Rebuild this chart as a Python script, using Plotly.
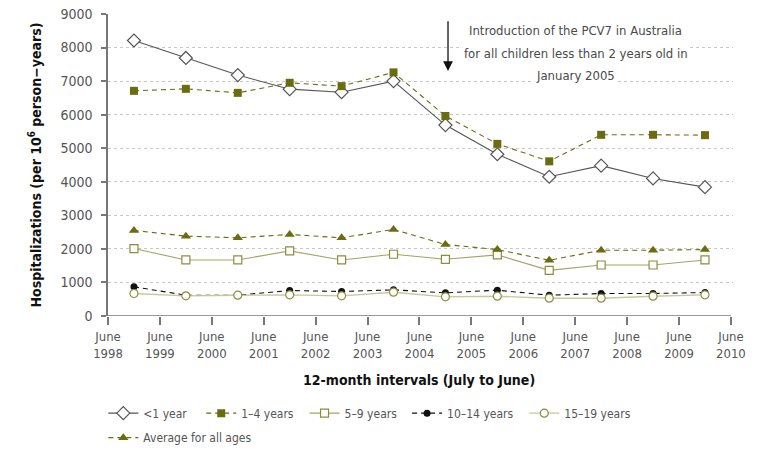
import plotly.graph_objects as go

periods = [0.5, 1.5, 2.5, 3.5, 4.5, 5.5, 6.5, 7.5, 8.5, 9.5, 10.5, 11.5]
tick_pos = list(range(13))
tick_labels = [f"June<br>{y}" for y in range(1998, 2011)]

under1 = [8210, 7690, 7180, 6760, 6670, 7000, 5690, 4820, 4150, 4480, 4100, 3840]
age1_4 = [6710, 6770, 6650, 6950, 6850, 7260, 5960, 5130, 4610, 5400, 5400, 5390]
age5_9 = [2010, 1670, 1670, 1940, 1670, 1840, 1690, 1820, 1360, 1520, 1520, 1670]
age10_14 = [870, 620, 620, 760, 730, 780, 690, 770, 620, 670, 670, 700]
age15_19 = [670, 600, 620, 630, 600, 710, 570, 590, 530, 530, 590, 630]
average_all = [2550, 2380, 2330, 2430, 2330, 2580, 2130, 1980, 1660, 1960, 1960, 1980]

note_lines = ["Introduction of the PCV7 in Australia",
              "for all children less than 2 years old in",
              "January 2005"]

FONT = "DejaVu Sans Condensed, Lato, sans-serif"
OLIVE = "#6b6b10"
DASH = "5px,4px"

fig = go.Figure()

fig.add_trace(go.Scatter(
    x=periods, y=under1, name="<1 year", mode="lines+markers",
    line=dict(color="#555555", width=1.1),
    marker=dict(symbol="diamond", size=10, color="white", line=dict(color="#555555", width=1.2)),
    legend="legend",
))
fig.add_trace(go.Scatter(
    x=periods, y=age1_4, name="1–4 years", mode="lines+markers",
    line=dict(color=OLIVE, width=1.1, dash=DASH),
    marker=dict(symbol="square", size=8, color=OLIVE),
    legend="legend2",
))
fig.add_trace(go.Scatter(
    x=periods, y=age5_9, name="5–9 years", mode="lines+markers",
    line=dict(color="#a3a566", width=1.1),
    marker=dict(symbol="square", size=8, color="white", line=dict(color="#8c8e3e", width=1.2)),
    legend="legend3",
))
fig.add_trace(go.Scatter(
    x=periods, y=age10_14, name="10–14 years", mode="lines+markers",
    line=dict(color="#111111", width=1.1, dash=DASH),
    marker=dict(symbol="circle", size=7, color="#111111"),
    legend="legend4",
))
fig.add_trace(go.Scatter(
    x=periods, y=age15_19, name="15–19 years", mode="lines+markers",
    line=dict(color="#c6c89c", width=1.4),
    marker=dict(symbol="circle", size=8, color="white", line=dict(color="#8c8e3e", width=1.2)),
    legend="legend5",
))
fig.add_trace(go.Scatter(
    x=periods, y=average_all, name="Average for all ages", mode="lines+markers",
    line=dict(color=OLIVE, width=1.1, dash=DASH),
    marker=dict(symbol="triangle-up", size=9, color=OLIVE),
    legend="legend6",
))

for i, (line_text, yv) in enumerate(zip(note_lines, [8520, 7830, 7170])):
    fig.add_annotation(
        x=9.01, y=yv, xref="x", yref="y", showarrow=False, text=line_text,
        font=dict(family=FONT, size=13, color="#4a4a4a"), bgcolor="white",
        borderpad=1,
    )
fig.add_annotation(
    x=6.55, y=7300, ax=6.55, ay=8830, xref="x", yref="y", axref="x", ayref="y",
    showarrow=True, arrowhead=2, arrowsize=1.5, arrowwidth=1.3, arrowcolor="#111111", text="",
)
fig.add_annotation(
    x=6, y=-0.212, xref="x", yref="paper", showarrow=False,
    text="<b>12-month intervals (July to June)</b>", yanchor="middle",
    font=dict(family=FONT, size=14, color="#111111"),
)

legend_common = dict(orientation="h", xref="container", yref="container",
                     xanchor="left", yanchor="middle", itemwidth=30,
                     font=dict(family=FONT, size=12, color="#555555"),
                     bgcolor="rgba(0,0,0,0)", borderwidth=0)
legend_x = [0.134, 0.261, 0.395, 0.528, 0.680, 0.134]
legend_y = [0.090, 0.090, 0.090, 0.090, 0.090, 0.036]
legends = {}
for i, (lx, ly) in enumerate(zip(legend_x, legend_y)):
    key = "legend" if i == 0 else f"legend{i + 1}"
    legends[key] = dict(legend_common, x=lx, y=ly)

fig.update_layout(
    width=771, height=454,
    margin=dict(l=108, r=38, t=14, b=138, autoexpand=False),
    plot_bgcolor="white", paper_bgcolor="white",
    font=dict(family=FONT, size=13, color="#555555"),
    showlegend=True,
    **legends,
    xaxis=dict(range=[0, 12.04], tickvals=tick_pos, ticktext=tick_labels,
               showgrid=False, zeroline=False, showline=False,
               ticks="outside", ticklen=8, tickcolor="#777777", tickwidth=1.5,
               ticklabeloverflow="allow",
               tickfont=dict(family=FONT, size=13, color="#555555")),
    yaxis=dict(range=[0, 9000], dtick=1000, showgrid=True, gridcolor="#c8c8c8",
               griddash="dot", gridwidth=1, zeroline=False, showline=True,
               linecolor="#777777", linewidth=1.5, ticks="outside", ticklen=5,
               tickcolor="#777777", tickwidth=1.5, ticklabelstandoff=6,
               ticklabeloverflow="allow",
               tickfont=dict(family=FONT, size=14, color="#555555"),
               title=dict(text="<b>Hospitalizations (per 10<sup>6</sup> person−years)</b>",
                          font=dict(family=FONT, size=14, color="#111111"), standoff=16)),
)
fig.add_shape(type="line", xref="x", yref="y", x0=0, x1=12, y0=0, y1=0,
              line=dict(color="#777777", width=1.5))

fig.write_html("out.html", config={"displayModeBar": False},
               post_script="document.body.style.margin='0px';")
